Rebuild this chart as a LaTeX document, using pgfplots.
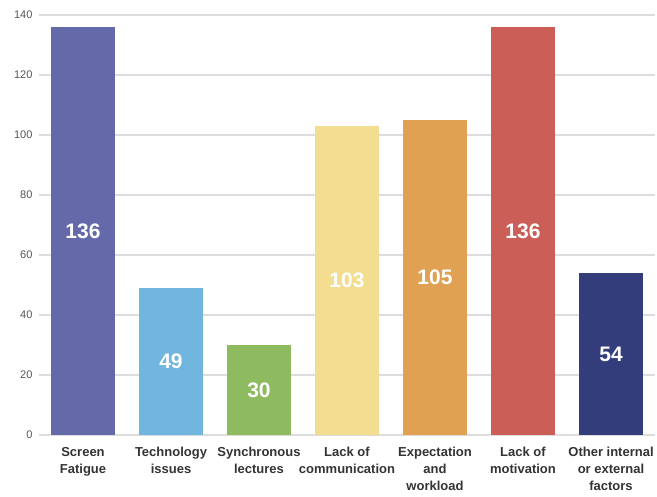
\documentclass[border=0pt]{standalone}
\usepackage{pgfplots}
\usepackage{pgfplotstable}
\pgfplotsset{compat=1.18}
\usepackage{fontspec}
\setmainfont{Liberation Sans}

\definecolor{c0}{HTML}{6469A9}
\definecolor{c1}{HTML}{70B6DE}
\definecolor{c2}{HTML}{8EBB60}
\definecolor{c3}{HTML}{F2DD90}
\definecolor{c4}{HTML}{E0A152}
\definecolor{c5}{HTML}{CB5F58}
\definecolor{c6}{HTML}{333D7C}
\definecolor{gridgray}{HTML}{DDDDDD}
\definecolor{ticktext}{HTML}{555555}
\definecolor{cattext}{HTML}{333333}

\pgfplotstableread{
x y
0 136
1 49
2 30
3 103
4 105
5 136
6 54
}\barsdata

\begin{document}
\begin{tikzpicture}
\begin{axis}[
  scale only axis,
  width=616pt, height=420pt,
  xmin=-0.5, xmax=6.5,
  ymin=0, ymax=140,
  ytick={0,20,...,140},
  xtick={0,...,6},
  xticklabels={{Screen\\Fatigue},{Technology\\issues},{Synchronous\\lectures},{Lack of\\communication},{Expectation\\and\\workload},{Lack of\\motivation},{Other internal\\or external\\factors}},
  xticklabel style={align=center, font=\fontsize{13}{17}\selectfont\bfseries, text=cattext, yshift=-9pt},
  yticklabel style={font=\fontsize{11}{12}\selectfont, text=ticktext, xshift=-3pt},
  /pgf/number format/assume math mode=true,
  axis line style={draw=none},
  major tick length=0pt,
  ymajorgrids,
  grid style={color=gridgray, line width=1.2pt},
  clip=false,
]
\pgfplotsinvokeforeach{0,...,6}{
  \addplot[ybar, bar width=64pt, bar shift=0pt, fill=c#1, draw=none]
    table[x=x, y=y, restrict x to domain=#1:#1] {\barsdata};
}
\addplot[draw=none, mark=none, nodes near coords, point meta=\thisrow{y},
  nodes near coords style={anchor=center, text=white,
    font=\fontsize{21}{21}\selectfont\bfseries}]
  table[x=x, y expr=\thisrow{y}/2] {\barsdata};
\end{axis}
\path ([xshift=-39pt,yshift=-61pt]current axis.south west)
  rectangle ([xshift=2pt,yshift=15pt]current axis.north east);
\end{tikzpicture}
\end{document}
